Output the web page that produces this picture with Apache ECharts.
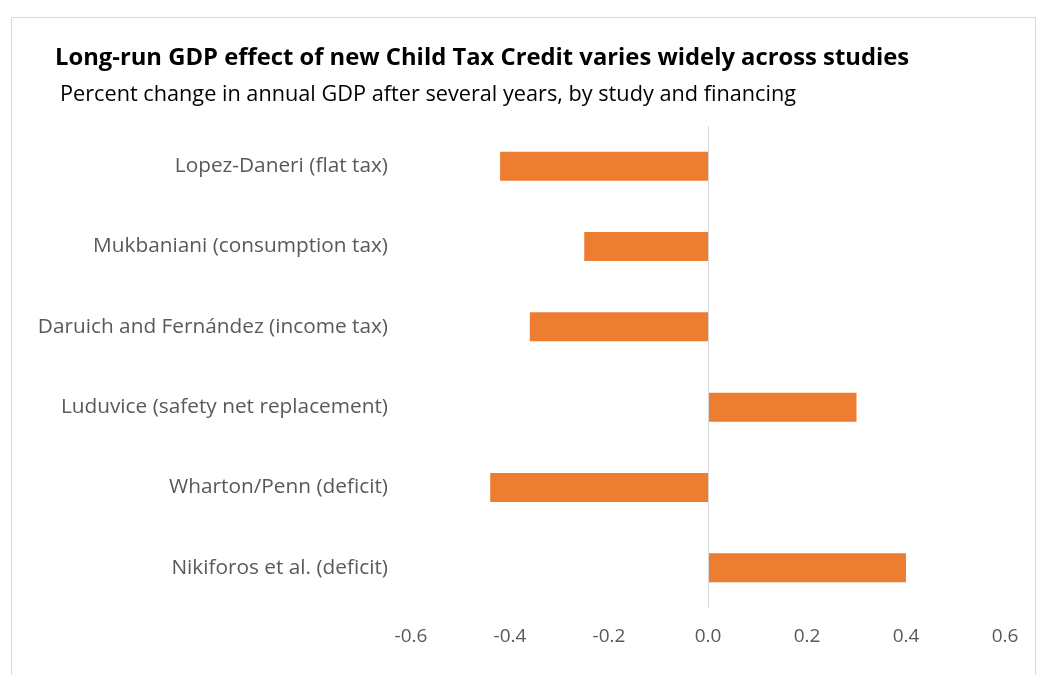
<!DOCTYPE html>
<html><head><meta charset="utf-8">
<script src="https://cdn.jsdelivr.net/npm/echarts@6/dist/echarts.min.js"></script>
<style>
html,body{margin:0;padding:0;background:#fff;overflow:hidden}
#frame{position:absolute;left:11px;top:17px;width:1025px;height:700px;border:1px solid #d9d9d9;box-sizing:border-box}
#c{position:absolute;left:0;top:0;width:1039px;height:675px}
</style></head>
<body><div id="frame"></div><div id="c"></div>
<script>
const categories = ["Lopez-Daneri (flat tax)","Mukbaniani (consumption tax)","Daruich and Fernández (income tax)","Luduvice (safety net replacement)","Wharton/Penn (deficit)","Nikiforos et al. (deficit)"];
const values = [-0.42,-0.25,-0.36,0.30,-0.44,0.40];
const titleText = "Long-run GDP effect of new Child Tax Credit varies widely across studies";
const subtitleText = "Percent change in annual GDP after several years, by study and financing";
const FONT = "'Open Sans', sans-serif";
const chart = echarts.init(document.getElementById('c'));
chart.setOption({
  animation:false,
  graphic:[
    {type:'text',left:55,top:46,style:{text:titleText,font:"bold 23.8px 'Open Sans', sans-serif",fill:'#000'}},
    {type:'text',left:60,top:84,style:{text:subtitleText,font:"21.7px 'Open Sans', sans-serif",fill:'#000'}}
  ],
  grid:{left:411,right:34,top:126,bottom:67,containLabel:false},
  xAxis:{type:'value',min:-0.6,max:0.6,interval:0.2,
    axisLine:{show:false},axisTick:{show:false},splitLine:{show:false},
    axisLabel:{color:'#595959',fontFamily:FONT,fontSize:19,margin:19,formatter:v=>v.toFixed(1)}},
  yAxis:{type:'category',data:categories,inverse:true,
    axisLine:{show:false},axisTick:{show:false},
    axisLabel:{color:'#595959',fontFamily:FONT,fontSize:20.8,margin:23}},
  series:[{type:'bar',data:values,barWidth:29,itemStyle:{color:'#ED7D31'},
    markLine:{silent:true,symbol:'none',label:{show:false},
      lineStyle:{color:'#d9d9d9',type:'solid',width:1},data:[{xAxis:0}]}}]
});
</script></body></html>
